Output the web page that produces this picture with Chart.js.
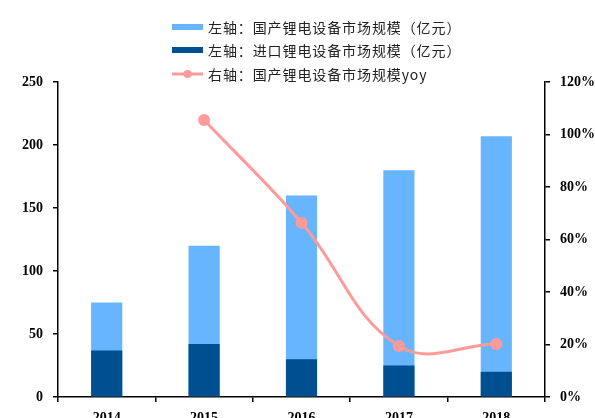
<!DOCTYPE html>
<html>
<head>
<meta charset="utf-8">
<script src="https://cdn.jsdelivr.net/npm/chart.js@4"></script>
<style>
  html, body { margin: 0; padding: 0; background: #fff; overflow: hidden; }
  canvas { display: block; }
</style>
</head>
<body>
<canvas id="marketChart" width="595" height="418"></canvas>
<script>
// Lithium equipment market size, 2014-2018
const years = ['2014', '2015', '2016', '2017', '2018'];
const domesticSize = [75, 120, 160, 180, 207];   // 亿元
const importSize = [37, 42, 30, 25, 20];         // 亿元
const domesticYoy = [null, 105.5, 66.4, 19.4, 20.2]; // %

const leftTicks = [0, 50, 100, 150, 200, 250];
const rightTicks = [0, 20, 40, 60, 80, 100, 120];

const seriesNames = [
    '左轴：国产锂电设备市场规模（亿元）',
    '左轴：进口锂电设备市场规模（亿元）',
    '右轴：国产锂电设备市场规模yoy'
];

const lightBlue = '#67B4FF';
const darkBlue = '#004F91';
const pink = '#FF9A9A';

const tickFont = { family: '"Liberation Serif", "Times New Roman", serif', size: 14, weight: 'bold' };

// Vertical legend stacked in the top area
const stackedLegend = {
    id: 'stackedLegend',
    afterDraw(chart) {
        const ctx = chart.ctx;
        const x0 = 172, x1 = 203, textX = 208;
        const rows = [27, 50, 74];
        ctx.save();
        ctx.font = '14px "Noto Sans CJK SC", sans-serif';
        ctx.letterSpacing = '0.9px';
        ctx.textBaseline = 'middle';
        chart.data.datasets.forEach((ds, i) => {
            const y = rows[i];
            if (ds.type === 'line') {
                ctx.strokeStyle = ds.borderColor;
                ctx.lineWidth = 3;
                ctx.beginPath();
                ctx.moveTo(x0, y);
                ctx.lineTo(x1, y);
                ctx.stroke();
                ctx.fillStyle = ds.borderColor;
                ctx.beginPath();
                ctx.arc((x0 + x1) / 2, y, 4, 0, Math.PI * 2);
                ctx.fill();
            } else {
                ctx.fillStyle = ds.backgroundColor;
                ctx.fillRect(x0, y - 3, x1 - x0, 6);
            }
            ctx.fillStyle = '#222';
            ctx.fillText(ds.label, textX, y + 1);
        });
        ctx.restore();
    }
};

const ctx = document.getElementById('marketChart').getContext('2d');
new Chart(ctx, {
    data: {
        labels: years,
        datasets: [
            {
                type: 'bar',
                label: seriesNames[0],
                data: domesticSize,
                backgroundColor: lightBlue,
                grouped: false,
                barPercentage: 0.32,
                categoryPercentage: 1,
                yAxisID: 'y',
                order: 3
            },
            {
                type: 'bar',
                label: seriesNames[1],
                data: importSize,
                backgroundColor: darkBlue,
                grouped: false,
                barPercentage: 0.32,
                categoryPercentage: 1,
                yAxisID: 'y',
                order: 2
            },
            {
                type: 'line',
                label: seriesNames[2],
                data: domesticYoy,
                borderColor: pink,
                backgroundColor: pink,
                borderWidth: 3,
                pointRadius: 6,
                pointBackgroundColor: pink,
                pointBorderWidth: 0,
                tension: 0.4,
                yAxisID: 'y1',
                order: 1
            }
        ]
    },
    options: {
        responsive: false,
        animation: false,
        layout: { padding: { top: 82, left: 0, right: 0, bottom: 0 } },
        plugins: {
            legend: { display: false },
            tooltip: { enabled: false }
        },
        scales: {
            x: {
                offset: true,
                grid: { display: true, drawOnChartArea: false, tickLength: 5, color: '#000', lineWidth: 1.5 },
                border: { display: true, color: '#000', width: 1.5 },
                ticks: { color: '#000', font: tickFont, padding: 8, maxRotation: 0 },
                afterFit(scale) { scale.height = 21; }
            },
            y: {
                position: 'left',
                min: 0,
                max: 250,
                afterBuildTicks(scale) { scale.ticks = leftTicks.map(v => ({ value: v })); },
                grid: { display: true, drawOnChartArea: false, tickLength: 5, color: '#000', lineWidth: 1.5 },
                border: { display: true, color: '#000', width: 1.5 },
                ticks: { color: '#000', font: tickFont, padding: 10 },
                afterFit(scale) { scale.width = 58; }
            },
            y1: {
                position: 'right',
                min: 0,
                max: 120,
                afterBuildTicks(scale) { scale.ticks = rightTicks.map(v => ({ value: v })); },
                grid: { display: true, drawOnChartArea: false, tickLength: 5, color: '#000', lineWidth: 1.5 },
                border: { display: true, color: '#000', width: 1.5 },
                ticks: { color: '#000', font: tickFont, padding: 10, callback: v => v + '%' },
                afterFit(scale) { scale.width = 50; }
            }
        }
    },
    plugins: [stackedLegend]
});
</script>
</body>
</html>
